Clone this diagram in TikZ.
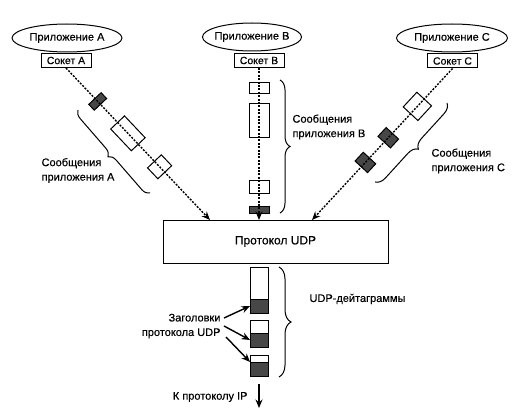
\documentclass[tikz,border=0pt]{standalone}
\usepackage{fontspec}
\setmainfont{Liberation Sans}[FakeBold=0.35]
\usetikzlibrary{calc,arrows.meta,shapes.geometric,decorations.pathreplacing,positioning}

\begin{document}
\begin{tikzpicture}[x=1pt, y=-1pt, >={Stealth[length=8.5pt,width=7pt]},
  app/.style={draw, ellipse, line width=1pt, inner xsep=-6pt, inner ysep=0pt, minimum height=28pt, font=\fontsize{11}{13}\selectfont},
  sock/.style={draw, fill=white, line width=1pt, minimum width=50pt, minimum height=14pt, inner sep=0pt, font=\fontsize{10.5}{12}\selectfont},
  flow/.style={->, line width=1.4pt, dash pattern=on 2pt off 1.4pt},
  pkt/.style={draw, line width=1pt, inner sep=0pt, sloped},
  hdr/.style={pkt, fill=black!72},
  brc/.style={decorate, decoration={brace, amplitude=8pt}, line width=1pt},
  lbl/.style={align=left, font=\fontsize{11}{14.5}\selectfont},
  dbody/.style={draw, line width=1pt, minimum width=18pt, inner sep=0pt, outer sep=0pt},
  dhdr/.style={dbody, fill=black!72, minimum height=14pt},
  hint/.style={->, line width=1.4pt}]

  \useasboundingbox (0,0) rectangle (524,409);

  % applications and their sockets
  \node[app, minimum width=110pt] (pA) at (67,38) {Приложение A};
  \node[app, minimum width=99pt] (pB) at (252,37) {Приложение B};
  \node[app, minimum width=111pt] (pC) at (452,38) {Приложение C};
  \node[sock] (sA) at (66,60.5) {Сокет A};
  \node[sock] (sB) at (259,60.5) {Сокет B};
  \node[sock] (sC) at (452.5,61) {Сокет C};

  % UDP module
  \node[draw, line width=1pt, minimum width=225pt, minimum height=43pt, font=\fontsize{12}{14}\selectfont] (udp) at (275.5,241.5) {Протокол UDP};
  \coordinate (ua) at (210,220);
  \coordinate (ub) at (259,220);
  \coordinate (uc) at (312,220);

  % messages of application A
  \path (sA.south) -- (ua)
    node[hdr, pos=0.22, minimum width=8pt, minimum height=17pt] (a1) {}
    node[pkt, pos=0.43, minimum width=30pt, minimum height=19pt] (a2) {}
    node[pkt, pos=0.65, minimum width=15pt, minimum height=19pt] (a3) {};
  \draw[flow] (sA.south) -- (ua);

  % messages of application B
  \path (sB.south) -- (ub)
    node[pkt, pos=0.134, minimum width=11pt, minimum height=20pt] (b1) {}
    node[pkt, pos=0.346, minimum width=34pt, minimum height=20pt] (b2) {}
    node[pkt, pos=0.78, minimum width=13pt, minimum height=20pt] (b3) {}
    node[hdr, pos=0.935, minimum width=7pt, minimum height=20pt] (b4) {};
  \draw[flow] (sB.south) -- (ub);

  % messages of application C
  \path (sC.south) -- (uc)
    node[pkt, pos=0.25, minimum width=20pt, minimum height=20pt] (c1) {}
    node[hdr, pos=0.457, minimum width=12pt, minimum height=17pt] (c2) {}
    node[hdr, pos=0.62, minimum width=12pt, minimum height=17pt] (c3) {};
  \draw[flow] (sC.south) -- (uc);

  % braces
  \draw[brc] (150,193) -- (78,110);
  \draw[brc, decoration={amplitude=10pt}] (280,80) -- (280,213);
  \draw[brc, decoration={amplitude=10pt}] (447,103) -- (375,182);
  \node[lbl] (mA) at (78,170.5) {Сообщения\\приложения A};
  \node[lbl, anchor=west] (mB) at (289,127) {Сообщения\\приложения B};
  \node[lbl, anchor=west] (mC) at (428,161) {Сообщения\\приложения C};

  % UDP datagrams
  \node[dbody, minimum height=32pt] (d1) at (259,283) {};
  \node[dhdr, below=0pt of d1] (h1) {};
  \node[dbody, minimum height=13pt] (d2) at (259,326.5) {};
  \node[dhdr, below=0pt of d2] (h2) {};
  \node[dbody, minimum height=7pt] (d3) at (259,358.5) {};
  \node[dhdr, below=0pt of d3] (h3) {};
  \draw[brc, decoration={amplitude=12pt}] (279,267) -- (279,377);
  \node[lbl, anchor=west] (dg) at (306,299) {UDP-дейтаграммы};

  % header labels
  \node[lbl, align=right, anchor=east] (hl) at (224,326) {Заголовки\\протокола UDP};
  \draw[hint] ([yshift=8pt]hl.east) -- (h1.west);
  \draw[hint] (hl.east) -- (h2.west);
  \draw[hint] ([shift={(2pt,-11pt)}]hl.east) -- (h3.north west);

  % down to IP
  \node[lbl, anchor=east] (ip) at (251,397) {К протоколу IP};
  \coordinate (ipend) at (259,408);
  \draw[hint] ([yshift=-8pt]h3.south) -- (ipend);

\end{tikzpicture}
\end{document}
